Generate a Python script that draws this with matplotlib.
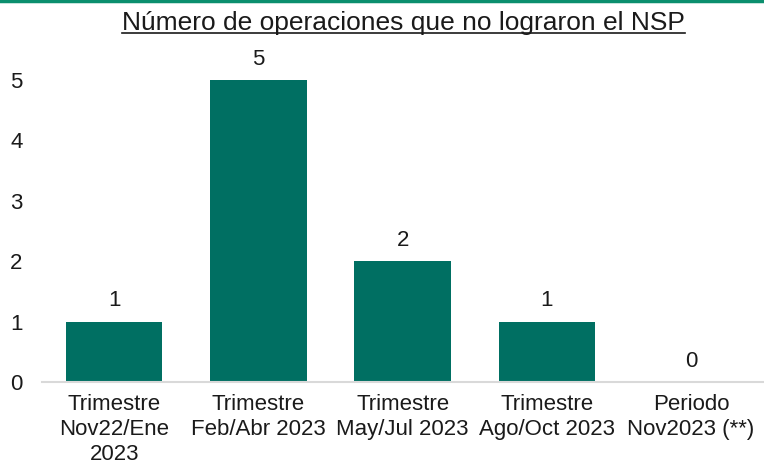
import matplotlib.pyplot as plt
from matplotlib.lines import Line2D

plt.rcParams['font.family'] = ['Liberation Sans', 'DejaVu Sans']

categories = ["Trimestre\nNov22/Ene\n2023", "Trimestre\nFeb/Abr 2023", "Trimestre\nMay/Jul 2023",
              "Trimestre\nAgo/Oct 2023", "Periodo\nNov2023 (**)"]
values = [1, 5, 2, 1, 0]

fig = plt.figure(figsize=(7.64, 4.68), dpi=100)
ax = fig.add_axes([0.055, 0.184, 0.944, 0.645])

x = range(len(categories))
bars = ax.bar(x, values, width=0.67, color="#006f62")
ax.set_xlim(-0.5, len(categories) - 0.5)
ax.set_ylim(0, 5)
ax.set_yticks(range(0, 6))

for xi, v in zip(x, values):
    ax.text(xi, v + 0.17, str(v), ha="center", va="bottom", fontsize=16, color="#1a1a1a", clip_on=False)

ax.set_xticks(list(x))
ax.set_xticklabels(categories, fontsize=16, color="#1a1a1a", linespacing=1.25)
ax.tick_params(axis="y", labelsize=16, labelcolor="#1a1a1a", length=0, pad=14)
ax.tick_params(axis="x", length=0, pad=9)
for s in ["top", "right", "left"]:
    ax.spines[s].set_visible(False)
ax.spines["bottom"].set_color("#d9d9d9")
ax.spines["bottom"].set_linewidth(1.5)

# title with underline
title = fig.text(0.528, 0.951, "Número de operaciones que no lograron el NSP", ha="center", va="center",
                 fontsize=19, color="#1a1a1a")
fig.canvas.draw()
bb = title.get_window_extent().transformed(fig.transFigure.inverted())
fig.add_artist(Line2D([bb.x0, bb.x1], [bb.y0 + 0.004, bb.y0 + 0.004], transform=fig.transFigure,
                      color="#1a1a1a", linewidth=1.2))

# green line on top
fig.add_artist(Line2D([0, 1], [0.997, 0.997], transform=fig.transFigure, color="#0b8f6e", linewidth=2.5))

fig.savefig("out.png", dpi=100)
